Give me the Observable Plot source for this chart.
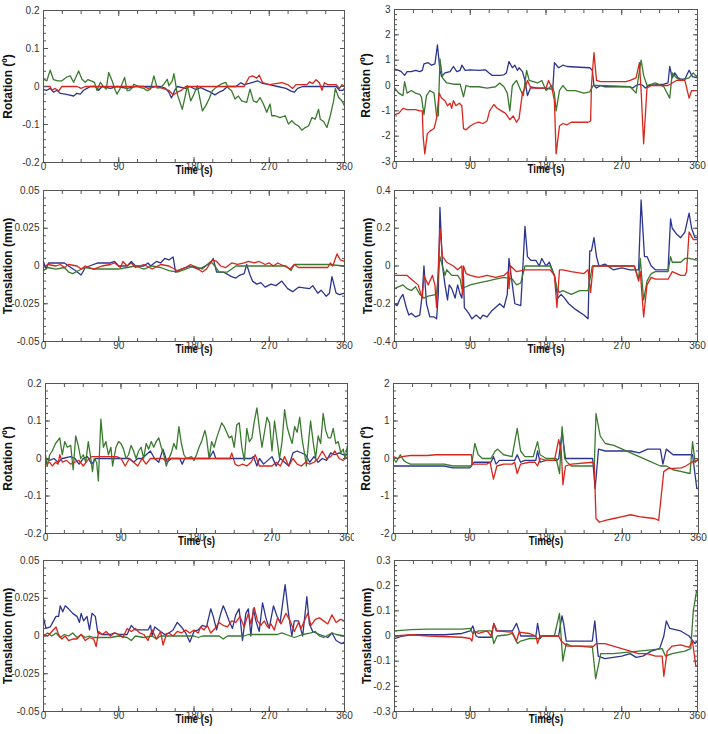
<!DOCTYPE html>
<html><head><meta charset="utf-8">
<script src="https://cdn.jsdelivr.net/npm/d3@7"></script>
<script src="https://cdn.jsdelivr.net/npm/@observablehq/plot@0.6"></script>
<style>
html,body{margin:0;padding:0;background:#fff;}
#wrap{position:relative;width:708px;height:734px;overflow:hidden;background:#fff;}
#wrap svg{position:absolute;}
</style></head><body><div id="wrap"></div>
<script>
// ---------- data: [time (s), value] ----------
const p1Green = [[0,0.019],[4,0.015],[8,0.043],[12,0.018],[17,0.015],[22,0.015],[28,0.025],[32,0.028],[36,0.011],[42,0.041],[46,0.019],[50,0.011],[53,0.018],[57,0.015],[61,0.011],[64,-0.011],[68,0.011],[72,-0.001],[75,-0.007],[78,0.037],[82,0.015],[86,-0.011],[88,-0.02],[92,-0.004],[97,0.024],[100,-0.011],[103,-0.01],[106,-0.004],[108,0.006],[112,0.002],[116,-0.003],[120,-0.005],[124,-0.011],[128,-0.007],[132,0.028],[136,-0.004],[140,-0.003],[144,0.006],[148,0.019],[150,0.002],[154,0.015],[156,0.034],[160,-0.02],[166,-0.06],[170,-0.02],[172,0.002],[176,-0.038],[180,-0.02],[184,0.002],[190,-0.064],[194,-0.051],[198,-0.033],[202,-0.011],[206,-0.003],[212,0.006],[218,0.011],[221,-0.004],[225,-0.011],[229,-0.033],[233,-0.025],[237,-0.038],[243,-0.042],[247,-0.007],[251,-0.038],[255,-0.042],[259,-0.029],[263,-0.046],[267,-0.068],[271,-0.046],[273,-0.077],[277,-0.077],[283,-0.082],[289,-0.077],[293,-0.099],[297,-0.09],[301,-0.099],[305,-0.104],[309,-0.115],[313,-0.108],[317,-0.104],[321,-0.082],[325,-0.086],[329,-0.06],[331,-0.086],[335,-0.092],[339,-0.108],[343,-0.077],[347,-0.038],[349,-0.005],[353,-0.029],[357,-0.038],[360,-0.051]];
const p1Red = [[0,0],[8,0],[10,-0.01],[14,-0.005],[18,-0.012],[22,0],[40,0],[45,-0.005],[50,0],[120,0],[125,-0.005],[135,0],[150,-0.01],[155,-0.022],[160,-0.015],[165,-0.01],[170,0],[240,0],[246,0.025],[250,0.028],[255,0.022],[258,0.03],[262,0.01],[270,0.005],[285,0.01],[292,0.005],[298,-0.005],[302,0.005],[315,0.005],[318,0.012],[322,0.008],[326,0.018],[330,0.01],[333,-0.01],[336,0.01],[340,0.005],[350,0.005],[354,-0.005],[357,0.005],[360,0]];
const p1Blue = [[0,-0.008],[4,-0.01],[8,-0.005],[12,-0.015],[16,-0.01],[20,-0.018],[26,-0.02],[30,-0.022],[36,-0.025],[40,-0.018],[44,-0.02],[48,-0.01],[52,-0.005],[56,0],[62,0],[66,-0.01],[70,0],[80,-0.005],[88,0],[100,-0.005],[110,0],[140,0],[146,-0.005],[150,-0.015],[153,-0.03],[157,-0.01],[160,0],[170,-0.005],[175,0],[182,-0.008],[188,-0.003],[195,-0.01],[200,-0.015],[205,-0.022],[210,-0.015],[215,-0.01],[220,0],[230,0],[236,0.01],[240,0.005],[246,0.008],[252,0.012],[256,0.015],[262,0.008],[270,0.005],[280,0],[290,-0.005],[296,-0.012],[300,-0.015],[304,-0.005],[310,0],[350,0],[354,-0.01],[358,-0.01],[360,-0.005]];

const p2Blue = [[0,0.65],[5,0.6],[8,0.55],[12,0.4],[15,0.55],[20,0.55],[25,0.6],[30,0.55],[33,0.6],[35,0.85],[40,0.9],[44,0.8],[48,0.85],[51,1.6],[54,0.6],[56,0.35],[60,0.5],[66,0.55],[70,0.75],[74,0.55],[78,0.6],[80,0.8],[84,0.6],[90,0.62],[100,0.6],[108,0.62],[112,0.5],[116,0.4],[125,0.4],[130,0.42],[133,0.5],[136,0.95],[140,0.7],[143,0.8],[146,0.6],[148,0.7],[152,0.55],[155,0.2],[158,-0.4],[162,-0.05],[170,-0.1],[180,-0.1],[188,-0.15],[190,0.9],[195,0.7],[200,0.8],[205,0.75],[220,0.72],[232,0.7],[235,0.6],[237,0.0],[240,-0.1],[245,0.0],[250,-0.05],[280,-0.05],[283,-0.1],[287,0.0],[292,0.05],[295,0.0],[298,-0.1],[302,0.0],[320,0.05],[325,0.1],[327,0.75],[330,0.3],[333,0.5],[337,0.3],[340,0.25],[345,0.25],[350,0.6],[354,0.35],[360,0.3]];
const p2Green = [[0,-0.1],[5,-0.3],[10,-0.4],[12,0.15],[15,-0.3],[20,-0.2],[25,-0.3],[30,-0.35],[32,-0.45],[35,-1.15],[38,-0.4],[42,-0.2],[47,-0.3],[50,-1.2],[52,-1.2],[54,1.05],[57,0.3],[62,0.1],[70,0.05],[78,0.05],[82,-0.45],[85,0.0],[90,-0.05],[100,-0.05],[110,-0.1],[120,-0.05],[125,0.1],[130,-0.05],[134,-0.3],[137,-1.0],[140,0.0],[145,0.2],[150,-0.2],[153,-0.4],[157,0.6],[160,0.2],[170,0.1],[175,0.2],[180,-0.2],[187,0.0],[190,-0.3],[192,-1.0],[196,-0.2],[200,0.0],[205,-0.2],[215,-0.2],[225,-0.3],[232,-0.25],[236,0.0],[240,0.0],[260,-0.02],[280,-0.05],[287,-0.3],[293,1.0],[296,0.4],[300,0.0],[310,0.1],[320,-0.05],[327,-0.5],[330,0.5],[335,0.3],[340,0.2],[350,0.3],[355,0.5],[360,0.3]];
const p2Red = [[0,-1.15],[5,-1.1],[10,-0.9],[15,-0.95],[25,-0.95],[30,-1.0],[33,-1.0],[34,-2.0],[36,-2.7],[39,-1.9],[42,-1.8],[47,-1.7],[50,-1.3],[53,-0.3],[56,-0.5],[60,-0.6],[63,-0.8],[66,-0.7],[68,-0.9],[70,-0.6],[73,-0.8],[77,-0.7],[80,-0.8],[82,-1.7],[85,-1.75],[90,-1.6],[95,-1.5],[100,-1.45],[105,-1.5],[110,-1.4],[113,-1.0],[118,-0.75],[122,-0.9],[127,-1.0],[132,-1.1],[137,-1.35],[141,-1.2],[145,-1.45],[148,-1.3],[152,-0.3],[155,-0.1],[158,0.2],[162,-0.1],[170,-0.1],[180,-0.1],[183,0.2],[187,-0.1],[190,-0.6],[192,-2.7],[196,-1.6],[200,-1.5],[205,-1.55],[210,-1.45],[230,-1.45],[233,-1.4],[234,0.0],[237,1.3],[240,0.2],[245,0.15],[275,0.15],[280,0.2],[287,0.3],[291,0.9],[293,-0.2],[296,-2.3],[300,-0.1],[305,0.0],[325,0.0],[330,0.1],[335,0.2],[345,0.2],[350,-0.5],[353,-0.2],[360,-0.2]];

const p3Blue = [[0,0.003],[3,-0.002],[6,0.002],[15,0.002],[25,0.002],[30,0],[38,-0.003],[45,-0.006],[50,-0.001],[55,0],[65,0.002],[80,0.002],[85,0.003],[90,0],[100,0],[105,0.003],[110,0],[120,0],[125,0.002],[128,0],[135,0.003],[140,0.002],[145,0.005],[150,0.004],[155,0.006],[158,-0.004],[165,-0.002],[175,0],[185,-0.002],[190,-0.001],[200,0.002],[203,0.005],[207,-0.004],[215,-0.004],[225,-0.007],[230,-0.008],[235,-0.006],[240,-0.005],[243,0.001],[247,-0.006],[250,-0.01],[255,-0.012],[260,-0.011],[265,-0.014],[272,-0.012],[278,-0.013],[285,-0.01],[292,-0.015],[298,-0.017],[305,-0.014],[318,-0.015],[322,-0.013],[328,-0.018],[332,-0.016],[338,-0.02],[342,-0.018],[345,-0.007],[350,-0.018],[354,-0.019],[360,-0.018]];
const p3Red = [[0,-0.001],[5,0.001],[15,0],[20,0.001],[25,-0.001],[30,0.001],[40,0],[45,-0.002],[50,0],[60,-0.002],[70,0],[80,0.001],[85,0.002],[92,-0.001],[95,0.003],[100,0],[105,0.002],[110,-0.001],[120,0.001],[130,-0.002],[140,0.001],[150,0],[160,-0.003],[170,-0.001],[176,0.001],[185,-0.002],[190,-0.004],[195,-0.002],[202,0.004],[207,0.003],[212,0],[218,-0.001],[225,0.002],[232,0.001],[240,0.002],[245,0.003],[252,0.002],[258,0.003],[265,0.001],[270,0.002],[275,0],[280,0.002],[288,0],[295,-0.002],[300,0.001],[305,-0.001],[340,-0.001],[343,0.002],[346,0],[351,0.008],[355,0.004],[360,0.003]];
const p3Green = [[0,-0.003],[5,-0.001],[15,-0.002],[25,-0.001],[30,-0.004],[35,-0.005],[42,-0.003],[50,-0.001],[60,-0.002],[90,-0.002],[100,-0.001],[110,0],[120,-0.002],[130,0],[140,-0.001],[150,-0.003],[160,-0.004],[170,-0.002],[180,0],[190,-0.002],[200,0.003],[205,0],[210,-0.004],[220,-0.004],[230,0],[240,0],[290,0],[296,-0.003],[300,0.001],[340,0.001],[360,0]];

const p4Blue = [[0,-0.2],[3,-0.21],[7,-0.17],[10,-0.15],[14,-0.22],[17,-0.26],[20,-0.25],[25,-0.27],[30,-0.26],[33,-0.15],[35,0.0],[38,-0.2],[42,-0.27],[47,-0.27],[50,-0.28],[52,-0.15],[54,0.31],[57,0.0],[60,-0.1],[63,-0.18],[65,-0.1],[68,-0.12],[72,-0.17],[75,-0.1],[78,-0.15],[80,-0.17],[82,-0.05],[83,-0.22],[88,-0.25],[92,-0.28],[97,-0.26],[102,-0.28],[105,-0.26],[110,-0.27],[115,-0.24],[120,-0.22],[125,-0.2],[130,-0.22],[134,-0.15],[136,0.04],[140,-0.1],[143,-0.2],[150,-0.21],[152,-0.05],[155,0.21],[158,0.05],[162,0.03],[168,0.03],[172,0.0],[175,0.04],[180,0.0],[184,0.02],[190,-0.05],[194,-0.17],[198,-0.15],[202,-0.17],[207,-0.2],[215,-0.23],[225,-0.26],[230,-0.28],[232,0.08],[234,0.08],[237,0.15],[240,0.05],[243,0.0],[250,0.01],[260,-0.02],[270,-0.01],[280,-0.02],[290,-0.02],[293,0.35],[297,0.05],[300,0.05],[305,0.0],[310,-0.02],[325,-0.02],[328,0.25],[330,0.2],[335,0.17],[340,0.15],[345,0.18],[350,0.28],[353,0.2],[357,0.15],[360,0.15]];
const p4Red = [[0,-0.05],[15,-0.05],[20,-0.07],[28,-0.1],[33,-0.17],[35,-0.05],[40,-0.1],[45,-0.05],[48,-0.1],[50,-0.22],[54,0.2],[57,0.05],[62,0.02],[70,0.0],[75,-0.02],[80,0.0],[81,-0.15],[82,0.0],[85,-0.04],[90,-0.05],[100,-0.06],[110,-0.05],[120,-0.06],[130,-0.05],[135,-0.03],[136,-0.12],[138,0.0],[145,-0.03],[155,-0.02],[170,-0.02],[185,-0.02],[190,-0.05],[193,-0.22],[196,-0.02],[200,-0.02],[210,-0.03],[225,-0.04],[230,-0.02],[233,-0.14],[236,0.0],[260,0.0],[285,0.0],[290,-0.08],[292,-0.03],[296,-0.27],[300,-0.1],[305,-0.06],[310,-0.07],[325,-0.07],[330,-0.03],[340,-0.05],[345,-0.05],[347,-0.03],[350,0.18],[355,0.14],[360,0.14]];
const p4Green = [[0,-0.12],[10,-0.1],[15,-0.12],[20,-0.13],[25,-0.11],[30,-0.15],[35,-0.17],[40,-0.16],[50,-0.15],[54,0.05],[57,0.0],[60,-0.05],[62,-0.02],[68,-0.05],[75,-0.05],[78,-0.07],[80,-0.12],[85,-0.11],[90,-0.1],[100,-0.09],[110,-0.08],[120,-0.07],[130,-0.06],[140,-0.07],[145,-0.1],[150,-0.09],[155,0.0],[185,0.0],[190,-0.05],[193,-0.12],[196,-0.14],[200,-0.13],[210,-0.15],[220,-0.13],[230,-0.13],[235,0.0],[285,0.0],[290,-0.07],[292,0.04],[296,-0.18],[300,-0.08],[305,-0.04],[310,-0.03],[325,-0.03],[328,0.05],[330,0.02],[340,0.02],[345,0.04],[350,0.04],[360,0.03]];

const p5Green = [[0,0.01],[2,-0.02],[5,0.01],[8,0.02],[12,0.04],[17,0.055],[20,0.01],[23,0.045],[26,0.03],[30,0.035],[33,-0.03],[36,0.06],[39,0.035],[42,0.0],[45,0.01],[48,-0.01],[51,0.045],[54,0.0],[56,-0.035],[58,0.0],[61,-0.01],[63,-0.06],[66,0.105],[69,0.03],[72,0.045],[75,0.01],[78,0.03],[80,-0.02],[84,0.03],[87,0.045],[90,0.04],[93,0.025],[96,0.0],[99,0.01],[102,0.035],[105,0.02],[108,0.0],[111,0.02],[114,0.03],[117,0.0],[120,0.04],[123,0.025],[126,0.045],[129,0.03],[132,0.045],[135,0.055],[138,0.03],[141,0.01],[144,-0.02],[147,0.0],[150,0.015],[153,0.04],[156,0.025],[159,0.085],[162,0.04],[165,0.01],[168,0.0],[174,0.005],[177,-0.005],[180,0.01],[183,0.03],[186,0.045],[190,0.075],[192,0.055],[195,0.0],[198,0.045],[201,0.03],[204,0.055],[207,0.075],[210,0.095],[213,0.085],[216,0.07],[219,0.055],[222,0.06],[225,0.03],[228,0.09],[231,0.095],[234,0.03],[237,-0.005],[240,0.08],[243,0.045],[246,0.055],[249,0.1],[252,0.135],[255,0.08],[258,0.03],[261,0.07],[264,0.11],[267,0.095],[270,0.02],[273,0.1],[276,0.05],[279,0.0],[282,0.045],[285,0.13],[288,0.085],[291,0.06],[294,0.04],[297,0.085],[300,0.07],[303,0.11],[306,0.05],[309,0.01],[311,-0.02],[314,0.055],[316,0.1],[319,0.045],[322,0.0],[325,0.06],[328,0.04],[331,0.12],[334,0.075],[337,0.055],[340,0.055],[343,0.08],[346,0.04],[349,0.045],[352,0.015],[355,0.025],[357,0.0],[360,0.035]];
const p5Red = [[0,-0.015],[5,-0.01],[8,-0.02],[12,-0.01],[15,-0.015],[17,0.01],[20,-0.01],[25,-0.005],[30,-0.015],[35,-0.01],[40,-0.005],[45,-0.02],[50,-0.005],[55,0.005],[85,0.005],[90,0],[95,-0.02],[100,0],[105,-0.01],[110,-0.02],[115,0],[120,-0.015],[125,0],[140,0],[143,-0.005],[146,0],[220,0],[222,0.015],[226,-0.015],[230,-0.02],[235,-0.015],[240,-0.02],[245,-0.01],[250,0.01],[255,-0.02],[270,-0.02],[275,-0.01],[280,-0.02],[285,0.005],[290,-0.02],[295,0],[300,-0.015],[305,-0.02],[310,-0.01],[315,-0.015],[320,-0.01],[325,0],[330,0.02],[335,0],[340,0.005],[345,0.02],[350,0],[355,-0.005],[360,0.005]];
const p5Blue = [[0,0],[5,-0.005],[10,0],[15,-0.01],[20,0],[30,0.005],[35,0],[40,-0.015],[45,0],[50,0.005],[55,-0.015],[60,0],[100,0],[105,-0.01],[110,0],[115,0],[120,0.01],[125,0.02],[130,0],[135,-0.01],[140,0.025],[145,-0.01],[150,0],[160,0],[163,-0.015],[166,0],[195,0],[200,0.02],[203,0],[245,0],[248,0.005],[252,-0.02],[255,0],[260,-0.015],[265,-0.005],[270,0.005],[275,-0.02],[280,0],[285,-0.01],[290,-0.02],[295,0.015],[300,0.02],[310,0.01],[315,-0.01],[320,0.005],[325,-0.01],[330,0],[335,-0.005],[340,0.015],[345,0.01],[350,0.015],[355,0.01],[360,0.01]];

const p6Red = [[0,0.05],[5,0.0],[10,0.05],[20,0.08],[40,0.08],[50,0.1],[90,0.1],[92,0.1],[93,-0.15],[110,-0.15],[114,-0.1],[118,-0.55],[122,-0.2],[130,-0.15],[140,-0.15],[143,-0.1],[146,-0.4],[150,-0.15],[160,-0.1],[167,-0.1],[170,-0.2],[173,0.0],[180,-0.05],[190,-0.05],[195,0.5],[198,0.2],[200,-0.7],[203,-0.2],[210,-0.15],[235,-0.1],[237,-0.15],[239,-1.6],[243,-1.7],[250,-1.65],[260,-1.6],[270,-1.55],[280,-1.5],[290,-1.55],[300,-1.58],[308,-1.6],[313,-1.65],[316,-1.0],[319,-0.35],[324,-0.27],[340,-0.25],[345,-0.2],[352,-0.1],[360,-0.05]];
const p6Green = [[0,0.0],[3,-0.1],[8,0.1],[12,-0.05],[15,-0.1],[20,-0.15],[60,-0.15],[70,-0.2],[92,-0.2],[96,0.4],[100,0.1],[105,0.0],[115,0.0],[120,0.2],[123,0.25],[130,0.1],[140,0.05],[146,0.8],[150,0.2],[155,0.05],[165,0.05],[170,0.45],[173,0.1],[180,0.0],[192,0.0],[196,-0.4],[199,0.85],[202,0.0],[205,-0.1],[210,-0.2],[237,-0.2],[239,1.2],[244,0.6],[250,0.4],[260,0.35],[270,0.25],[280,0.15],[290,0.05],[300,-0.05],[315,-0.2],[322,-0.2],[330,-0.3],[340,-0.35],[350,-0.4],[353,0.45],[356,-0.1],[360,0.0]];
const p6Blue = [[0,-0.2],[60,-0.2],[70,-0.25],[90,-0.25],[92,-0.2],[95,-0.1],[115,-0.1],[118,0.05],[121,-0.15],[125,-0.05],[143,-0.05],[146,0.1],[150,-0.1],[155,-0.05],[168,-0.05],[170,0.2],[173,-0.1],[180,-0.05],[193,-0.05],[195,0.0],[199,0.7],[203,0.0],[235,0.0],[238,-0.8],[242,0.25],[250,0.2],[280,0.2],[290,0.15],[300,0.25],[315,0.25],[318,-0.15],[322,0.25],[330,0.1],[350,0.1],[353,0.1],[358,-0.8],[360,-0.8]];

const p7Blue = [[0,0.012],[3,0.005],[8,0.006],[12,0.01],[15,0.013],[18,0.013],[20,0.02],[23,0.016],[26,0.02],[30,0.018],[35,0.015],[40,0.013],[43,0.009],[45,0.015],[48,0.01],[52,0.013],[55,0.004],[58,0.015],[62,0.013],[65,0.002],[70,0.001],[80,0.001],[85,0.002],[90,0.001],[100,0.001],[105,0.007],[110,0.004],[125,0.004],[128,0.007],[130,0.0],[133,0.006],[140,0.003],[145,0.001],[150,0.002],[155,0.004],[160,0.009],[165,0.006],[170,0.002],[175,-0.004],[180,0.003],[185,0.004],[190,0.007],[195,0.006],[200,0.018],[203,0.013],[207,0.004],[212,0.015],[215,0.02],[218,0.016],[222,0.01],[226,0.005],[230,0.014],[234,0.018],[238,-0.003],[242,0.015],[245,0.018],[248,0.0],[251,0.018],[254,0.01],[258,0.003],[262,0.022],[266,0.012],[270,0.005],[275,0.02],[280,0.012],[283,0.009],[289,0.034],[293,0.015],[297,0.0],[300,0.01],[305,0.01],[310,0.0],[315,0.026],[318,0.008],[322,0.003],[330,0.001],[340,-0.001],[345,0.002],[350,-0.003],[356,-0.005],[360,-0.004]];
const p7Red = [[0,0.001],[5,0.0],[10,0.003],[15,0.006],[18,0.001],[22,-0.002],[26,0.0],[30,-0.003],[35,-0.002],[40,-0.002],[45,0.001],[50,-0.003],[55,-0.001],[60,-0.002],[63,-0.007],[66,0.003],[70,0.001],[75,0.003],[80,0.0],[85,0.002],[90,0.001],[95,-0.001],[100,0.005],[105,0.003],[110,0.005],[115,0.002],[120,0.001],[125,-0.003],[130,0.004],[135,-0.002],[140,0.003],[143,-0.006],[147,0.001],[150,0.002],[155,0.0],[160,0.003],[165,0.002],[170,0.004],[175,0.002],[180,0.004],[185,0.002],[188,0.006],[192,0.004],[196,0.007],[200,0.002],[205,0.005],[210,0.009],[215,0.007],[220,0.006],[225,0.01],[230,0.009],[235,0.013],[240,0.006],[245,0.015],[248,0.008],[252,0.019],[256,0.01],[260,0.007],[264,0.01],[268,0.006],[272,0.008],[276,0.004],[280,0.012],[284,0.008],[290,0.015],[295,0.01],[300,0.003],[305,0.009],[308,0.005],[312,0.01],[316,0.015],[320,0.007],[325,0.011],[330,0.012],[335,0.01],[340,0.008],[345,0.014],[350,0.009],[355,0.011],[360,0.01]];
const p7Green = [[0,0.0],[5,0.002],[10,0.0],[15,0.002],[20,-0.001],[25,0.001],[30,0.0],[35,0.002],[40,-0.001],[45,0.001],[50,-0.001],[55,0.0],[60,-0.001],[80,-0.001],[90,0.0],[100,-0.001],[105,-0.003],[110,0.0],[120,-0.001],[130,0.0],[135,-0.002],[140,0.0],[180,0.0],[185,-0.001],[190,0.0],[210,0.0],[215,-0.002],[220,0.0],[240,0.0],[245,0.001],[280,0.001],[285,0.002],[295,0.0],[300,-0.001],[310,0.001],[320,0.002],[325,0.003],[330,0.0],[335,-0.001],[345,0.002],[350,0.001],[360,0.0]];

const p8Blue = [[0,-0.01],[10,0.0],[20,0.005],[60,0.005],[80,0.01],[90,0.02],[93,0.04],[97,0.0],[100,-0.005],[115,-0.005],[118,0.05],[121,0.02],[140,0.02],[145,0.05],[150,0.0],[168,0.0],[170,0.05],[173,-0.01],[175,0.0],[195,0.0],[199,0.08],[201,0.05],[204,-0.02],[235,-0.02],[238,0.06],[242,-0.08],[250,-0.09],[260,-0.085],[270,-0.08],[280,-0.07],[287,-0.085],[295,-0.08],[305,-0.06],[315,-0.05],[320,0.0],[323,0.06],[327,0.03],[340,0.02],[350,0.0],[357,-0.03],[360,-0.02]];
const p8Green = [[0,0.02],[20,0.025],[40,0.027],[80,0.027],[90,0.03],[93,0.01],[100,0.02],[115,0.02],[118,-0.03],[122,0.0],[135,0.005],[140,0.01],[146,-0.03],[150,-0.02],[160,-0.01],[172,-0.01],[175,0.0],[190,0.0],[196,0.09],[200,-0.1],[204,-0.03],[210,-0.04],[235,-0.04],[239,-0.17],[245,-0.07],[260,-0.07],[275,-0.065],[290,-0.06],[305,-0.055],[318,-0.05],[322,-0.08],[330,-0.07],[345,-0.06],[352,-0.05],[355,0.1],[359,0.18],[360,0.18]];
const p8Red = [[0,0.0],[20,0.005],[40,0.0],[80,-0.005],[90,-0.01],[92,-0.02],[94,0.02],[100,0.01],[110,0.02],[115,0.0],[118,0.05],[122,0.02],[140,0.015],[145,-0.02],[148,0.015],[160,0.01],[168,0.0],[170,-0.03],[173,0.0],[195,0.0],[198,-0.02],[205,-0.04],[220,-0.04],[235,-0.045],[240,-0.03],[250,-0.03],[260,-0.04],[270,-0.05],[280,-0.06],[290,-0.07],[300,-0.07],[310,-0.08],[318,-0.08],[320,-0.16],[324,-0.06],[330,-0.04],[340,-0.035],[350,-0.045],[354,-0.02],[358,-0.12],[360,-0.12]];

// ---------- tick labels ----------
const xTicks = [0, 90, 180, 270, 360];
const rotSmallTicks = [-0.2, -0.1, 0, 0.1, 0.2];
const transSmallTicks = [-0.05, -0.025, 0, 0.025, 0.05];
const rot3Ticks = [-3, -2, -1, 0, 1, 2, 3];
const trans4Ticks = [-0.4, -0.2, 0, 0.2, 0.4];
const rot2Ticks = [-2, -1, 0, 1, 2];
const trans3Ticks = [-0.3, -0.2, -0.1, 0, 0.1, 0.2, 0.3];

// ---------- layout ----------
const COLORS = {red: "#d8261c", green: "#3a7a2e", blue: "#2b3590"};
const FONT = "'Liberation Sans', Arial, Helvetica, sans-serif";

const panels = [
  {col:0, f:[43,344,10,162], dom:[-0.2,0.2], ticks:rotSmallTicks, yl:"Rotation (º)", xl:"Time (s)", ylx:8, s:[p1Blue,p1Green,p1Red]},
  {col:1, f:[394,697,9,161], dom:[-3,3], ticks:rot3Ticks, yl:"Rotation (º)", xl:"Time (s)", ylx:366, s:[p2Blue,p2Green,p2Red]},
  {col:0, f:[43,344,190,341], dom:[-0.05,0.05], ticks:transSmallTicks, yl:"Translation (mm)", xl:"Time (s)", ylx:8, s:[p3Blue,p3Green,p3Red]},
  {col:1, f:[394,697,190,341], dom:[-0.4,0.4], ticks:trans4Ticks, yl:"Translation (mm)", xl:"Time (s)", ylx:368, s:[p4Blue,p4Green,p4Red]},
  {col:0, f:[45,347,383,533], dom:[-0.2,0.2], ticks:rotSmallTicks, yl:"Rotation (º)", xl:"Time (s)", ylx:8, s:[p5Blue,p5Green,p5Red]},
  {col:1, f:[393,698,383,533], dom:[-2,2], ticks:rot2Ticks, yl:"Rotation (º)", xl:"Time(s)", ylx:366, s:[p6Blue,p6Green,p6Red]},
  {col:0, f:[43,344,560,711], dom:[-0.05,0.05], ticks:transSmallTicks, yl:"Translation (mm)", xl:"Time (s)", ylx:8, s:[p7Blue,p7Green,p7Red]},
  {col:1, f:[394,697,560,711], dom:[-0.3,0.3], ticks:trans3Ticks, yl:"Translation (mm)", xl:"Time(s)", ylx:367, s:[p8Blue,p8Green,p8Red]}
];
const seriesColors = [COLORS.blue, COLORS.green, COLORS.red];

const wrap = document.getElementById("wrap");
const xMinor = d3.range(0, 361, 22.5);
const FRAME = "#555";

for (const p of panels) {
  const [L, R, T, B] = p.f;
  const W = 354, left = p.col * 354, top = T - 10;
  const H = B - T + 34;
  const step = p.ticks[1] - p.ticks[0];
  const n = Math.round((p.dom[1] - p.dom[0]) / step * 5);
  const yMinor = d3.range(0, n + 1).map(i => p.dom[0] + i * step / 5);
  const lines = p.s.map((arr, i) => Plot.line(arr, {x: d => d[0], y: d => d[1], stroke: seriesColors[i], strokeWidth: 1.3, strokeLinejoin: "round"}));
  const tickMarks = [];
  for (const [tk, size] of [[xMinor, 3], [xTicks, 5]]) {
    tickMarks.push(Plot.axisX({anchor: "bottom", ticks: tk, tickSize: size, dy: -size, tickFormat: () => "", label: null, stroke: FRAME}));
    tickMarks.push(Plot.axisX({anchor: "top", ticks: tk, tickSize: size, dy: size, tickFormat: () => "", label: null, stroke: FRAME}));
  }
  for (const [tk, size] of [[yMinor, 3], [p.ticks, 5]]) {
    tickMarks.push(Plot.axisY({anchor: "left", ticks: tk, tickSize: size, dx: size, tickFormat: () => "", label: null, stroke: FRAME}));
    tickMarks.push(Plot.axisY({anchor: "right", ticks: tk, tickSize: size, dx: -size, tickFormat: () => "", label: null, stroke: FRAME}));
  }
  const chart = Plot.plot({
    width: W, height: H,
    marginLeft: L - left, marginRight: left + W - R,
    marginTop: 10, marginBottom: H - 10 - (B - T),
    style: {fontFamily: FONT, background: "transparent", overflow: "hidden"},
    x: {domain: [0, 360]},
    y: {domain: p.dom},
    marks: [
      ...lines,
      ...tickMarks,
      Plot.frame({stroke: FRAME, strokeWidth: 1}),
      Plot.axisY({anchor: "left", ticks: p.ticks, tickSize: 0, tickPadding: 4, tickFormat: d => String(d), fontSize: 10, fill: "#333", label: null}),
      Plot.axisX({anchor: "bottom", ticks: xTicks, tickSize: 0, tickPadding: 0, tickFormat: d => String(d), fontSize: 10, fill: "#333", label: null}),
      Plot.text([p.yl], {text: d => d, frameAnchor: "left", textAnchor: "middle", dx: p.ylx - L, rotate: -90, fontSize: 12, fontWeight: "bold", fill: "#111"}),
      Plot.text([p.xl], {text: d => d, frameAnchor: "bottom", textAnchor: "middle", dy: 11, fontSize: 12.5, fontWeight: "bold", fill: "#111"})
    ]
  });
  // the reference's horizontal titles are horizontally condensed: scale them about their own anchor point
  chart.querySelectorAll("text").forEach(t => {
    if (t.textContent === p.xl) {
      const x = +(t.getAttribute("x") || 0), y = +(t.getAttribute("y") || 0);
      t.removeAttribute("x");
      t.removeAttribute("y");
      const tr = t.getAttribute("transform") || "";
      t.setAttribute("transform", `${tr} translate(${x},${y}) scale(0.78,1)`);
    }
  });
  chart.style.left = left + "px";
  chart.style.top = top + "px";
  chart.style.maxWidth = "none";
  wrap.appendChild(chart);
}
</script></body></html>
